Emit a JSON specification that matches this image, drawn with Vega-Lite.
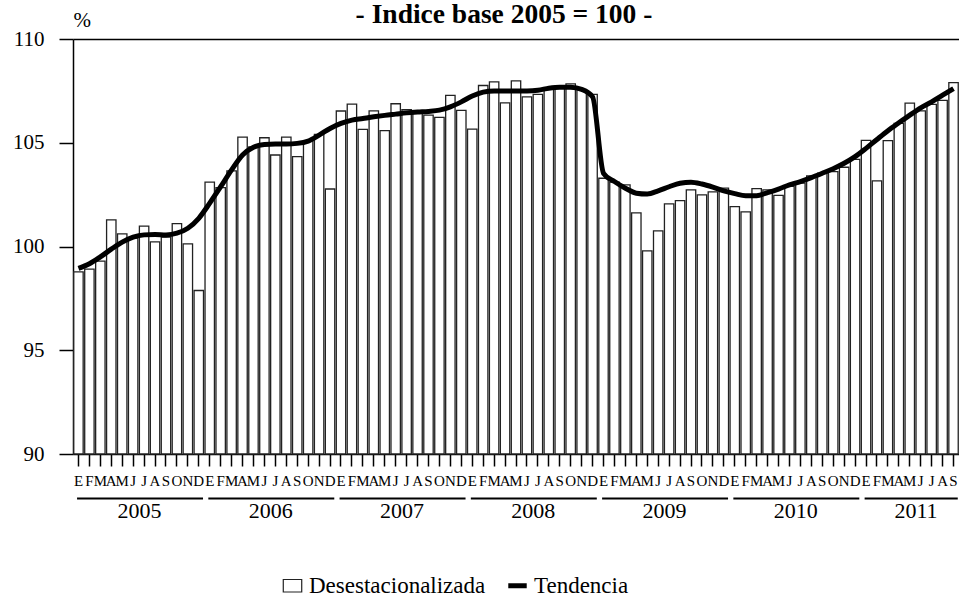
{
  "$schema": "https://vega.github.io/schema/vega-lite/v6.json",
  "background": "white",
  "padding": {"left": 12, "top": 0, "right": 0, "bottom": 0},
  "title": {"text": "- Indice base 2005 = 100 -", "fontSize": 27.5, "fontWeight": "bold", "color": "black", "anchor": "middle", "baseline": "alphabetic", "offset": -41, "dx": 16},
  "datasets": {
    "serie": [
      {"mes": "2005-01", "Desestacionalizada": 98.78, "Tendencia": 98.95},
      {"mes": "2005-02", "Desestacionalizada": 98.91, "Tendencia": 99.17},
      {"mes": "2005-03", "Desestacionalizada": 99.3, "Tendencia": 99.5},
      {"mes": "2005-04", "Desestacionalizada": 101.28, "Tendencia": 99.87},
      {"mes": "2005-05", "Desestacionalizada": 100.61, "Tendencia": 100.21},
      {"mes": "2005-06", "Desestacionalizada": 100.4, "Tendencia": 100.45},
      {"mes": "2005-07", "Desestacionalizada": 100.98, "Tendencia": 100.56},
      {"mes": "2005-08", "Desestacionalizada": 100.22, "Tendencia": 100.58},
      {"mes": "2005-09", "Desestacionalizada": 100.45, "Tendencia": 100.56},
      {"mes": "2005-10", "Desestacionalizada": 101.1, "Tendencia": 100.64},
      {"mes": "2005-11", "Desestacionalizada": 100.13, "Tendencia": 100.88},
      {"mes": "2005-12", "Desestacionalizada": 97.88, "Tendencia": 101.36},
      {"mes": "2006-01", "Desestacionalizada": 103.1, "Tendencia": 102.09},
      {"mes": "2006-02", "Desestacionalizada": 102.84, "Tendencia": 102.88},
      {"mes": "2006-03", "Desestacionalizada": 103.64, "Tendencia": 103.69},
      {"mes": "2006-04", "Desestacionalizada": 105.27, "Tendencia": 104.41},
      {"mes": "2006-05", "Desestacionalizada": 104.8, "Tendencia": 104.78},
      {"mes": "2006-06", "Desestacionalizada": 105.24, "Tendencia": 104.92},
      {"mes": "2006-07", "Desestacionalizada": 104.41, "Tendencia": 104.94},
      {"mes": "2006-08", "Desestacionalizada": 105.27, "Tendencia": 104.94},
      {"mes": "2006-09", "Desestacionalizada": 104.33, "Tendencia": 104.97},
      {"mes": "2006-10", "Desestacionalizada": 105.1, "Tendencia": 105.08},
      {"mes": "2006-11", "Desestacionalizada": 105.4, "Tendencia": 105.37},
      {"mes": "2006-12", "Desestacionalizada": 102.77, "Tendencia": 105.69},
      {"mes": "2007-01", "Desestacionalizada": 106.53, "Tendencia": 105.93},
      {"mes": "2007-02", "Desestacionalizada": 106.86, "Tendencia": 106.09},
      {"mes": "2007-03", "Desestacionalizada": 105.64, "Tendencia": 106.17},
      {"mes": "2007-04", "Desestacionalizada": 106.54, "Tendencia": 106.25},
      {"mes": "2007-05", "Desestacionalizada": 105.58, "Tendencia": 106.32},
      {"mes": "2007-06", "Desestacionalizada": 106.88, "Tendencia": 106.38},
      {"mes": "2007-07", "Desestacionalizada": 106.59, "Tendencia": 106.44},
      {"mes": "2007-08", "Desestacionalizada": 106.5, "Tendencia": 106.48},
      {"mes": "2007-09", "Desestacionalizada": 106.33, "Tendencia": 106.51},
      {"mes": "2007-10", "Desestacionalizada": 106.22, "Tendencia": 106.57},
      {"mes": "2007-11", "Desestacionalizada": 107.28, "Tendencia": 106.73},
      {"mes": "2007-12", "Desestacionalizada": 106.56, "Tendencia": 106.97},
      {"mes": "2008-01", "Desestacionalizada": 105.66, "Tendencia": 107.25},
      {"mes": "2008-02", "Desestacionalizada": 107.76, "Tendencia": 107.44},
      {"mes": "2008-03", "Desestacionalizada": 107.93, "Tendencia": 107.5},
      {"mes": "2008-04", "Desestacionalizada": 106.92, "Tendencia": 107.5},
      {"mes": "2008-05", "Desestacionalizada": 107.98, "Tendencia": 107.5},
      {"mes": "2008-06", "Desestacionalizada": 107.21, "Tendencia": 107.5},
      {"mes": "2008-07", "Desestacionalizada": 107.33, "Tendencia": 107.53},
      {"mes": "2008-08", "Desestacionalizada": 107.6, "Tendencia": 107.63},
      {"mes": "2008-09", "Desestacionalizada": 107.7, "Tendencia": 107.68},
      {"mes": "2008-10", "Desestacionalizada": 107.84, "Tendencia": 107.67},
      {"mes": "2008-11", "Desestacionalizada": 107.55, "Tendencia": 107.57},
      {"mes": "2008-12", "Desestacionalizada": 107.33, "Tendencia": 107.21},
      {"mes": "2009-01", "Desestacionalizada": 103.29, "Tendencia": 103.53},
      {"mes": "2009-02", "Desestacionalizada": 103.1, "Tendencia": 103.13},
      {"mes": "2009-03", "Desestacionalizada": 102.97, "Tendencia": 102.81},
      {"mes": "2009-04", "Desestacionalizada": 101.62, "Tendencia": 102.57},
      {"mes": "2009-05", "Desestacionalizada": 99.79, "Tendencia": 102.53},
      {"mes": "2009-06", "Desestacionalizada": 100.75, "Tendencia": 102.68},
      {"mes": "2009-07", "Desestacionalizada": 102.05, "Tendencia": 102.88},
      {"mes": "2009-08", "Desestacionalizada": 102.21, "Tendencia": 103.05},
      {"mes": "2009-09", "Desestacionalizada": 102.73, "Tendencia": 103.1},
      {"mes": "2009-10", "Desestacionalizada": 102.49, "Tendencia": 103.01},
      {"mes": "2009-11", "Desestacionalizada": 102.63, "Tendencia": 102.86},
      {"mes": "2009-12", "Desestacionalizada": 102.81, "Tendencia": 102.68},
      {"mes": "2010-01", "Desestacionalizada": 101.92, "Tendencia": 102.55},
      {"mes": "2010-02", "Desestacionalizada": 101.67, "Tendencia": 102.45},
      {"mes": "2010-03", "Desestacionalizada": 102.79, "Tendencia": 102.45},
      {"mes": "2010-04", "Desestacionalizada": 102.73, "Tendencia": 102.6},
      {"mes": "2010-05", "Desestacionalizada": 102.46, "Tendencia": 102.77},
      {"mes": "2010-06", "Desestacionalizada": 102.9, "Tendencia": 102.97},
      {"mes": "2010-07", "Desestacionalizada": 103.05, "Tendencia": 103.13},
      {"mes": "2010-08", "Desestacionalizada": 103.4, "Tendencia": 103.32},
      {"mes": "2010-09", "Desestacionalizada": 103.53, "Tendencia": 103.53},
      {"mes": "2010-10", "Desestacionalizada": 103.61, "Tendencia": 103.75},
      {"mes": "2010-11", "Desestacionalizada": 103.82, "Tendencia": 104.01},
      {"mes": "2010-12", "Desestacionalizada": 104.2, "Tendencia": 104.33},
      {"mes": "2011-01", "Desestacionalizada": 105.11, "Tendencia": 104.73},
      {"mes": "2011-02", "Desestacionalizada": 103.16, "Tendencia": 105.16},
      {"mes": "2011-03", "Desestacionalizada": 105.1, "Tendencia": 105.58},
      {"mes": "2011-04", "Desestacionalizada": 105.93, "Tendencia": 105.96},
      {"mes": "2011-05", "Desestacionalizada": 106.91, "Tendencia": 106.33},
      {"mes": "2011-06", "Desestacionalizada": 106.54, "Tendencia": 106.68},
      {"mes": "2011-07", "Desestacionalizada": 106.85, "Tendencia": 106.97},
      {"mes": "2011-08", "Desestacionalizada": 107.04, "Tendencia": 107.29},
      {"mes": "2011-09", "Desestacionalizada": 107.9, "Tendencia": 107.61}
    ],
    "anios": [
      {"anio": "2005", "ini": "2005-01", "fin": "2005-12", "centro": "2005-07"},
      {"anio": "2006", "ini": "2006-01", "fin": "2006-12", "centro": "2006-07"},
      {"anio": "2007", "ini": "2007-01", "fin": "2007-12", "centro": "2007-07"},
      {"anio": "2008", "ini": "2008-01", "fin": "2008-12", "centro": "2008-07"},
      {"anio": "2009", "ini": "2009-01", "fin": "2009-12", "centro": "2009-07"},
      {"anio": "2010", "ini": "2010-01", "fin": "2010-12", "centro": "2010-07"},
      {"anio": "2011", "ini": "2011-01", "fin": "2011-09", "centro": "2011-06"}
    ]
  },
  "spacing": 9,
  "resolve": {"scale": {"x": "shared"}},
  "vconcat": [
    {
      "width": 886,
      "height": 415,
      "data": {"name": "serie"},
      "transform": [{"fold": ["Desestacionalizada", "Tendencia"], "as": ["tipo", "valor"]}],
      "encoding": {
        "x": {
          "field": "mes", "type": "ordinal",
          "scale": {"type": "band", "paddingInner": 0.14, "paddingOuter": 0.07},
          "axis": {
            "title": null,
            "labelExpr": "substring('EFMAMJJASOND', toNumber(substring(datum.value,5,7))-1, toNumber(substring(datum.value,5,7)))",
            "labelAngle": 0, "labelFontSize": 15, "labelPadding": 7, "labelOverlap": false, "labelBound": false, "labelFlush": false,
            "tickSize": 12, "tickColor": "black", "tickWidth": 1.5, "domainColor": "black", "domainWidth": 1.5, "labelColor": "black"
          }
        },
        "y": {
          "field": "valor", "type": "quantitative",
          "scale": {"domain": [90, 110], "zero": false, "nice": false},
          "axis": {
            "values": [90, 95, 100, 105, 110],
            "title": "%", "titleAngle": 0, "titleAlign": "left", "titleBaseline": "alphabetic", "titleX": 0, "titleY": -13,
            "titleFontSize": 21, "titleFontWeight": "normal", "titleColor": "black",
            "labelFontSize": 21, "labelPadding": 15, "labelColor": "black",
            "tickSize": 14, "tickColor": "black", "tickWidth": 1.5, "domainColor": "black", "domainWidth": 1.5,
            "grid": true, "gridColor": "black", "gridWidth": 1.5,
            "gridOpacity": {"condition": {"test": "datum.value == 110", "value": 1}, "value": 0}
          }
        },
        "stroke": {
          "field": "tipo", "type": "nominal",
          "scale": {"domain": ["Desestacionalizada", "Tendencia"], "range": ["#222222", "#000000"]},
          "legend": {
            "title": null, "orient": "none", "legendX": 208, "legendY": 535, "direction": "horizontal",
            "labelFontSize": 23, "labelColor": "black", "labelLimit": 400, "symbolSize": 340, "labelOffset": 5, "columnPadding": 12,
            "encode": {
              "symbols": {
                "update": {
                  "shape": {"signal": "datum.value === 'Tendencia' ? 'stroke' : 'M-1,-0.68H1V0.68H-1Z'"},
                  "strokeWidth": {"signal": "datum.value === 'Tendencia' ? 5 : 1.2"},
                  "fill": {"value": "white"}
                }
              }
            }
          }
        }
      },
      "layer": [
        {
          "transform": [{"filter": "datum.tipo == 'Desestacionalizada'"}],
          "mark": {"type": "bar", "fill": "white", "strokeWidth": 1.3},
          "encoding": {"y2": {"datum": 90}}
        },
        {
          "transform": [{"filter": "datum.tipo == 'Tendencia'"}],
          "mark": {"type": "line", "strokeWidth": 5, "interpolate": "monotone"}
        }
      ]
    },
    {
      "width": 886,
      "height": 1,
      "data": {"name": "anios"},
      "layer": [
        {
          "mark": {"type": "rule", "strokeWidth": 2, "color": "black"},
          "encoding": {
            "x": {"field": "ini", "type": "ordinal", "bandPosition": 0.35, "axis": null},
            "x2": {"field": "fin", "bandPosition": 0.95}
          }
        },
        {
          "mark": {"type": "text", "baseline": "top", "dy": 2, "fontSize": 22, "color": "black"},
          "encoding": {
            "x": {"field": "centro", "type": "ordinal", "bandPosition": 0, "axis": null},
            "text": {"field": "anio"}
          }
        }
      ]
    }
  ],
  "config": {
    "font": "Liberation Serif",
    "view": {"stroke": null}
  }
}
